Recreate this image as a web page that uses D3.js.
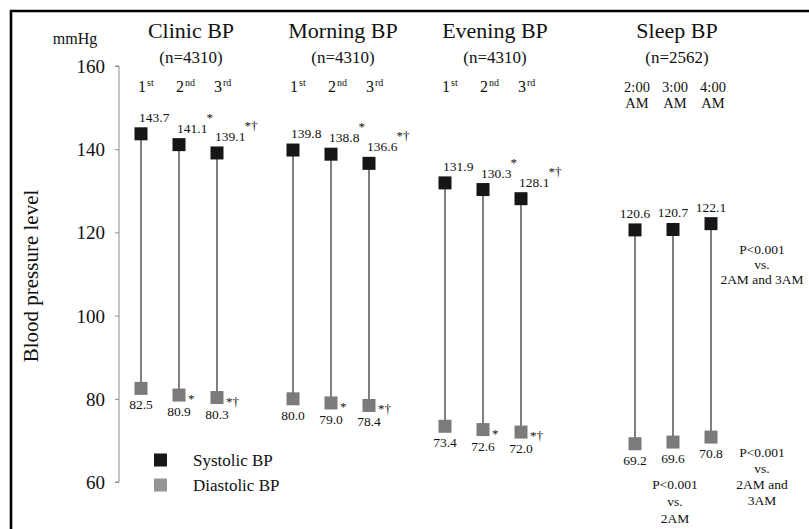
<!DOCTYPE html>
<html>
<head>
<meta charset="utf-8">
<script src="https://cdn.jsdelivr.net/npm/d3@7"></script>
<style>
  html, body { margin: 0; padding: 0; background: #fff; }
  svg { display: block; font-family: "Liberation Serif", "Times New Roman", serif; }
</style>
</head>
<body>
<svg id="chart" width="809" height="529"></svg>
<script>
// Blood pressure by measurement occasion: systolic (top) and diastolic (bottom)
const groupTitles = ["Clinic BP", "Morning BP", "Evening BP", "Sleep BP"];
const groupCounts = ["(n=4310)", "(n=4310)", "(n=4310)", "(n=2562)"];
const visitOrdinals = [["1", "st"], ["2", "nd"], ["3", "rd"]];
const sleepTimes = [["2:00", "AM"], ["3:00", "AM"], ["4:00", "AM"]];

const systolic = [
  [143.7, 141.1, 139.1],
  [139.8, 138.8, 136.6],
  [131.9, 130.3, 128.1],
  [120.6, 120.7, 122.1]
];
const diastolic = [
  [82.5, 80.9, 80.3],
  [80.0, 79.0, 78.4],
  [73.4, 72.6, 72.0],
  [69.2, 69.6, 70.8]
];
// significance marks: * vs 1st, † vs 2nd
const systolicMarks = [
  ["", "*", "*†"], ["", "*", "*†"], ["", "*", "*†"], ["", "", ""]
];
const diastolicMarks = [
  ["", "*", "*†"], ["", "*", "*†"], ["", "*", "*†"], ["", "", ""]
];
const yTicks = [60, 80, 100, 120, 140, 160];
const seriesNames = ["Systolic BP", "Diastolic BP"];
const sleepNotes = [
  ["P<0.001", "vs.", "2AM and 3AM"],
  ["P<0.001", "vs.", "2AM"],
  ["P<0.001", "vs.", "2AM and", "3AM"]
];

const svg = d3.select("#chart");
const colSys = "#161616", colDia = "#7b7b7b";
const sq = 13;

// frame
svg.append("path")
  .attr("d", "M11,540 L11,11 L820,11")
  .attr("fill", "none").attr("stroke", "#000").attr("stroke-width", 2.6);

// slot index for each point: three slots per group, gaps between groups (wider before sleep)
const groupStart = [0, 4, 8, 13];
const slot = (g, i) => groupStart[g] + i;

const x = d3.scaleLinear().domain([0, 15]).range([141, 711]);
const y = d3.scaleLinear().domain([60, 160]).range([482, 66]);

// y axis
const axis = d3.axisLeft(y).tickValues(yTicks).tickSize(4).tickPadding(10).tickFormat(d3.format("d"));
const gAxis = svg.append("g").attr("transform", "translate(119,0)").call(axis);
gAxis.select(".domain").attr("stroke", "#8a8a8a").attr("stroke-width", 1)
  .attr("d", `M-4,${y(160)}H0V${y(60)}H-4`);
gAxis.selectAll(".tick line").attr("stroke", "#8a8a8a");
gAxis.selectAll(".tick text")
  .attr("font-family", "Liberation Serif").attr("font-size", 19).attr("fill", "#111")
  .attr("dy", "0.34em");

svg.append("text").attr("x", 75).attr("y", 44).attr("text-anchor", "middle")
  .attr("font-size", 16).attr("fill", "#111").text("mmHg");

svg.append("text")
  .attr("transform", `translate(38,${(y(60) + y(160)) / 2 + 2}) rotate(-90)`)
  .attr("text-anchor", "middle").attr("font-size", 21).attr("fill", "#111")
  .text("Blood pressure level");

// group headers
groupTitles.forEach((t, g) => {
  const cx = x(slot(g, 1)) + (g < 3 ? 12 : 4);
  svg.append("text").attr("x", cx).attr("y", 38).attr("text-anchor", "middle")
    .attr("font-size", 22).attr("fill", "#111").text(t);
  svg.append("text").attr("x", cx).attr("y", 63).attr("text-anchor", "middle")
    .attr("font-size", 17).attr("fill", "#111").text(groupCounts[g]);
  if (g < 3) {
    visitOrdinals.forEach((o, i) => {
      const t2 = svg.append("text").attr("x", x(slot(g, i)) - 3).attr("y", 92)
        .attr("font-size", 16).attr("fill", "#111");
      t2.append("tspan").text(o[0]);
      t2.append("tspan").attr("dy", -6).attr("font-size", 10).attr("dx", 1).text(o[1]);
    });
  } else {
    sleepTimes.forEach((s, i) => {
      const cx2 = x(slot(g, i)) + 2;
      svg.append("text").attr("x", cx2).attr("y", 92).attr("text-anchor", "middle")
        .attr("font-size", 14.5).attr("fill", "#111").text(s[0]);
      svg.append("text").attr("x", cx2).attr("y", 108).attr("text-anchor", "middle")
        .attr("font-size", 14.5).attr("fill", "#111").text(s[1]);
    });
  }
});

// points
const points = [];
systolic.forEach((arr, g) => arr.forEach((v, i) => points.push({
  g, i, sys: v, dia: diastolic[g][i], sm: systolicMarks[g][i], dm: diastolicMarks[g][i]
})));

const gp = svg.append("g");
gp.selectAll("line.stem").data(points).join("line")
  .attr("x1", d => x(slot(d.g, d.i))).attr("x2", d => x(slot(d.g, d.i)))
  .attr("y1", d => y(d.sys)).attr("y2", d => y(d.dia))
  .attr("stroke", "#2a2a2a").attr("stroke-width", 1.2);

gp.selectAll("rect.sys").data(points).join("rect")
  .attr("x", d => x(slot(d.g, d.i)) - sq / 2).attr("y", d => y(d.sys) - sq / 2)
  .attr("width", sq).attr("height", sq).attr("fill", colSys);
gp.selectAll("rect.dia").data(points).join("rect")
  .attr("x", d => x(slot(d.g, d.i)) - sq / 2).attr("y", d => y(d.dia) - sq / 2)
  .attr("width", sq).attr("height", sq).attr("fill", colDia);

// systolic value labels
points.forEach(d => {
  const cx = x(slot(d.g, d.i)), cy = y(d.sys);
  const t = svg.append("text").attr("y", cy - 12).attr("font-size", 13.5).attr("fill", "#111");
  if (d.g < 3) t.attr("x", cx - 2);
  else t.attr("x", cx).attr("text-anchor", "middle");
  t.append("tspan").text(d3.format(".1f")(d.sys));
  if (d.sm) t.append("tspan").attr("dy", -11).attr("dx", -1).attr("font-size", 13).text(d.sm);

  // diastolic value labels
  const dy = y(d.dia);
  svg.append("text").attr("x", cx).attr("y", dy + 21).attr("text-anchor", "middle")
    .attr("font-size", 13.5).attr("fill", "#111").text(d3.format(".1f")(d.dia));
  if (d.dm) svg.append("text").attr("x", cx + 9).attr("y", dy + 8)
    .attr("font-size", 13).attr("fill", "#111").text(d.dm);
});

// sleep comparison notes
function note(lines, cx, y0, lh) {
  lines.forEach((l, k) => svg.append("text").attr("x", cx).attr("y", y0 + k * lh)
    .attr("text-anchor", "middle").attr("font-size", 13.5).attr("fill", "#111").text(l));
}
note(sleepNotes[0], x(slot(3, 2)) + 51, y(systolic[3][2]) + 30, 15);
note(sleepNotes[1], x(slot(3, 1)) + 2, y(diastolic[3][1]) + 47, 17);
note(sleepNotes[2], x(slot(3, 2)) + 51, y(diastolic[3][2]) + 20, 16);

// legend
seriesNames.forEach((n, k) => {
  const ly = 460 + k * 25;
  svg.append("rect").attr("x", 154).attr("y", ly - sq / 2).attr("width", sq).attr("height", sq)
    .attr("fill", k === 0 ? colSys : "#959595");
  svg.append("text").attr("x", 193).attr("y", ly + 6).attr("font-size", 17)
    .attr("fill", "#111").text(n);
});
</script>
</body>
</html>
